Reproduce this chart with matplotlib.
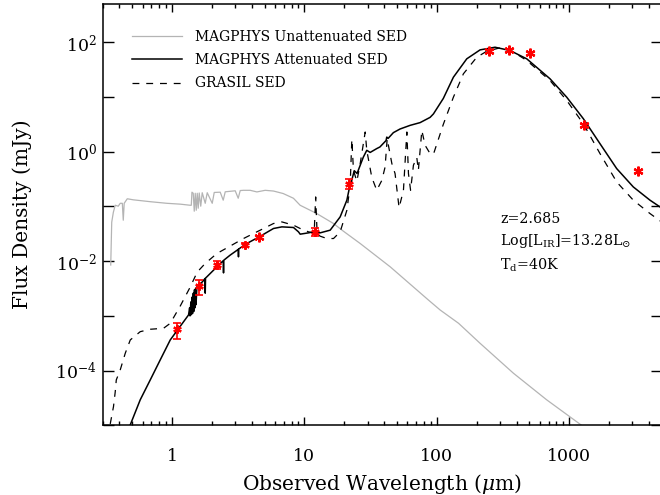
import numpy as np
import matplotlib
matplotlib.use('Agg')
import matplotlib.pyplot as plt
from matplotlib.ticker import FixedLocator, LogLocator, NullFormatter, NullLocator

plt.rcParams['font.family'] = ['DejaVu Serif']
plt.rcParams['mathtext.fontset'] = 'dejavuserif'

# ---------------- data (wavelength in micron, flux density in mJy) ----------------
gray_lam = [0.345, 0.351, 0.361, 0.373, 0.393, 0.407, 0.422, 0.429, 0.436, 0.460, 0.511, 0.686,
            0.917, 1.155, 1.374, 1.40, 1.416, 1.448, 1.474, 1.499, 1.526, 1.552, 1.579, 1.607,
            1.650, 1.693, 1.784, 1.847, 2.015, 2.086, 2.315, 2.439, 2.526, 3.005, 3.166, 3.277,
            3.47, 3.898, 4.38, 5.06, 5.85, 6.92, 8.27, 9.29, 12.4, 16.6, 19.7, 26.4, 44.5, 86.4,
            106, 146, 212, 379, 676, 1316]
gray_flux = [8.5e-3, 0.0515, 0.078, 0.105, 0.101, 0.114, 0.114, 0.056, 0.114, 0.138, 0.132, 0.122,
             0.114, 0.110, 0.105, 0.105, 0.182, 0.174, 0.0817, 0.174, 0.0851, 0.174, 0.0927, 0.176,
             0.101, 0.178, 0.114, 0.178, 0.114, 0.180, 0.182, 0.130, 0.185, 0.193, 0.141, 0.195,
             0.197, 0.197, 0.184, 0.197, 0.191, 0.172, 0.141, 0.105, 0.0741, 0.0487, 0.0353, 0.0210,
             7.87e-3, 1.95e-3, 1.28e-3, 7.32e-4, 3.16e-4, 8.95e-5, 2.92e-5, 9.0e-6]

black_lam = [0.4845, 0.576, 0.686, 0.816, 0.971, 1.102, 1.335, 1.36, 1.37, 1.39, 1.40, 1.42, 1.43,
             1.45, 1.46, 1.48, 1.49, 1.51, 1.52, 1.544, 1.70, 1.775, 1.784, 1.793, 1.837, 2.186,
             2.44, 2.452, 2.464, 2.754, 3.17, 3.18, 3.19, 3.594, 4.559, 5.846, 6.765, 8.275, 9.027,
             9.296, 10.74, 11.71, 13.16, 15.66, 18.63, 20.94, 21.9, 22.8, 23.8, 25.0, 27.9, 29.6,
             31.4, 35.2, 37.2, 41.4, 41.9, 42.9, 47.0, 52.8, 62.9, 74.8, 89.0, 94.3, 112, 133.5,
             168.4, 212.3, 275.4, 357.5, 477.9, 716, 957, 1278, 1708, 2283, 3047, 4073, 5013]
black_flux = [1.02e-5, 2.92e-5, 6.76e-5, 1.57e-4, 3.63e-4, 5.52e-4, 1.04e-3, 1.4e-3, 1.0e-3, 1.8e-3,
              1.05e-3, 2.2e-3, 1.1e-3, 2.6e-3, 1.2e-3, 3.0e-3, 1.4e-3, 3.2e-3, 1.6e-3, 3.4e-3,
              4.2e-3, 4.8e-3, 2.6e-3, 4.9e-3, 5.18e-3, 7.87e-3, 1.02e-2, 6.1e-3, 1.04e-2, 0.0129,
              0.0164, 0.012, 0.0166, 0.0204, 0.0278, 0.0395, 0.0423, 0.0412, 0.0343, 0.0311,
              0.0329, 0.0343, 0.0329, 0.0368, 0.0643, 0.130, 0.22, 0.30, 0.45, 0.40, 0.80, 1.06,
              0.97, 1.14, 1.22, 1.6, 1.85, 1.75, 2.23, 2.6, 3.03, 3.4, 4.24, 4.9, 9.4, 23.0,
              49.8, 72.6, 81.1, 70.6, 49.8, 21.5, 9.93, 4.01, 1.40, 0.491, 0.227, 0.130, 0.0927]

grasil_lam = [0.342, 0.362, 0.373, 0.380, 0.407, 0.444, 0.4845, 0.576, 0.686, 0.864, 0.971, 1.155,
              1.374, 1.552, 1.784, 2.186, 2.66, 3.47, 4.64, 5.846, 6.765, 8.275, 9.296, 10.74,
              11.86, 12.17, 12.49, 13.16, 14.79, 16.6, 18.63, 20.94, 22.17, 22.83, 23.48, 24.90,
              26.4, 28.8, 29.6, 32.3, 35.2, 38.5, 40.7, 42.2, 45.8, 48.4, 51.9, 56.0, 59.4, 61.1,
              63.4, 66.6, 70.6, 72.6, 77.1, 81.6, 89.0, 94.3, 112, 133.5, 158.8, 200.4, 238.4,
              300.4, 357.5, 478, 716, 957, 1278, 1708, 2283, 3047, 4073, 5013]
grasil_flux = [1.06e-5, 2.20e-5, 4.08e-5, 6.76e-5, 1.03e-4, 2.07e-4, 3.63e-4, 5.14e-4, 5.69e-4,
               5.93e-4, 7.31e-4, 1.51e-3, 3.36e-3, 6.31e-3, 9.08e-3, 0.0138, 0.0180, 0.0259,
               0.0368, 0.0487, 0.0521, 0.0454, 0.0395, 0.0343, 0.0325, 0.149, 0.0311, 0.0286,
               0.0259, 0.0259, 0.0343, 0.0851, 0.243, 1.68, 0.457, 0.288, 0.605, 2.29, 1.06,
               0.340, 0.197, 0.301, 0.525, 1.72, 0.605, 0.398, 0.0947, 0.197, 2.29, 0.398, 0.197,
               0.564, 0.789, 0.457, 2.45, 1.31, 0.923, 0.896, 3.16, 9.93, 26.5, 53.2, 68.6, 79.1,
               72.6, 46.4, 20.0, 8.65, 3.25, 0.923, 0.280, 0.130, 0.0741, 0.0515]

# photometry with error bars
phot_err_lam = [1.10, 1.61, 2.20, 3.59, 12.1, 21.9]
phot_err_flux = [5.7e-4, 3.5e-3, 8.5e-3, 1.98e-2, 3.43e-2, 0.261]
phot_err_lo = [3.7e-4, 2.4e-3, 7.1e-3, 1.82e-2, 2.9e-2, 0.212]
phot_err_hi = [7.3e-4, 4.5e-3, 1.01e-2, 2.15e-2, 3.95e-2, 0.323]
# photometry without visible error bars
phot_lam = [4.56, 249, 349, 503, 1294, 3305]
phot_flux = [2.74e-2, 70.6, 73.6, 63.0, 3.03, 0.444]

xtick_vals = [1, 10, 100, 1000]
xtick_labels = ['1', '10', '100', '1000']
ytick_vals = [1e-5, 1e-4, 1e-3, 1e-2, 1e-1, 1e0, 1e1, 1e2]
ytick_labels = ['', r'$10^{-4}$', '', r'$10^{-2}$', '', r'$10^{0}$', '', r'$10^{2}$']

series_labels = ['MAGPHYS Unattenuated SED', 'MAGPHYS Attenuated SED', 'GRASIL SED']
annot_lines = ['z=2.685', r'Log[L$_{\rm IR}$]=13.28L$_{\odot}$', r'T$_{\rm d}$=40K']

# ---------------- figure ----------------
fig = plt.figure(figsize=(6.6, 4.95), dpi=100)
ax = fig.add_axes([0.1556, 0.1408, 0.8471, 0.8511])
ax.set_xscale('log')
ax.set_yscale('log')

ax.plot(gray_lam, gray_flux, color='#b4b4b4', lw=0.9, label=series_labels[0], zorder=2)
ax.plot(black_lam, black_flux, color='black', lw=1.1, label=series_labels[1], zorder=3)
ax.plot(grasil_lam, grasil_flux, color='black', lw=0.9, linestyle=(0, (5.5, 5.5)),
        label=series_labels[2], zorder=3)

pf = np.array(phot_err_flux)
yerr = [pf - np.array(phot_err_lo), np.array(phot_err_hi) - pf]
ax.errorbar(phot_err_lam, phot_err_flux, yerr=yerr, fmt='none', ecolor='red',
            elinewidth=1.2, capsize=3, capthick=1.2, zorder=4)
ax.plot(phot_err_lam, phot_err_flux, ls='none', marker=(6, 2, 0), ms=6, mew=1.6,
        color='red', zorder=5)
ax.plot(phot_lam, phot_flux, ls='none', marker=(6, 2, 0), ms=7, mew=1.6,
        color='red', zorder=5)

ax.set_xlim(0.3, 5000)
ax.set_ylim(1e-5, 500)

ax.xaxis.set_major_locator(FixedLocator(xtick_vals))
ax.set_xticklabels(xtick_labels)
ax.xaxis.set_minor_locator(LogLocator(base=10, subs=np.arange(2, 10)))
ax.xaxis.set_minor_formatter(NullFormatter())
ax.yaxis.set_major_locator(FixedLocator(ytick_vals))
ax.set_yticklabels(ytick_labels)
ax.yaxis.set_minor_locator(NullLocator())

ax.tick_params(which='both', direction='in', top=True, right=True, width=1.0)
ax.tick_params(axis='x', which='major', length=5.8, pad=16, labelsize=12.5)
ax.tick_params(axis='x', which='minor', length=2.9)
ax.tick_params(axis='y', which='major', length=8, pad=4.1, labelsize=12.5)
for s in ax.spines.values():
    s.set_linewidth(1.1)

ax.set_xlabel(r'Observed Wavelength ($\mu$m)', fontsize=14.5)
ax.xaxis.set_label_coords(0.5, -0.112)
ax.set_ylabel('Flux Density (mJy)', fontsize=14.5)
ax.yaxis.set_label_coords(-0.126, 0.5)

ax.legend(loc='upper left', bbox_to_anchor=(0.0519, 0.938), frameon=False, fontsize=10,
          handlelength=3.6, handletextpad=0.95, labelspacing=0.66, borderpad=0,
          borderaxespad=0)

for txt, yy in zip(annot_lines, [0.4795, 0.4280, 0.3703]):
    ax.text(0.7106, yy, txt, transform=ax.transAxes, fontsize=10.3, va='baseline', ha='left')

fig.savefig('out.png', dpi=100)
